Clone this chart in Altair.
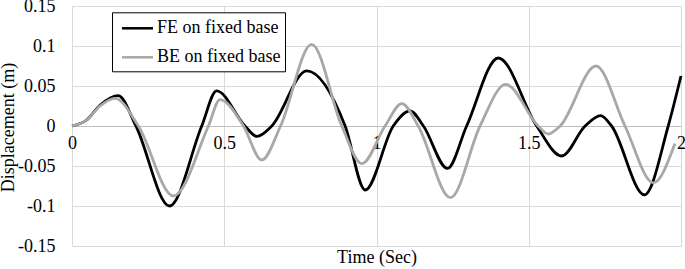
import altair as alt
import pandas as pd

# FE on fixed base (black)
fe_t = [0.0, 0.048, 0.092, 0.152, 0.21, 0.32, 0.426, 0.475, 0.568, 0.607, 0.656,
        0.771, 0.897, 0.963, 1.055, 1.110, 1.154, 1.233, 1.296, 1.400, 1.526,
        1.608, 1.685, 1.736, 1.772, 1.880, 1.958, 2.0]
fe_d = [0.0, 0.0075, 0.026, 0.038, 0.0, -0.100, 0.0, 0.044, 0.0, -0.013, 0.0,
        0.069, 0.0, -0.080, 0.0, 0.019, 0.0, -0.053, 0.0, 0.085, 0.0,
        -0.0375, 0.0, 0.013, 0.0, -0.086, 0.0, 0.0625]

# BE on fixed base (grey)
be_t = [0.0, 0.048, 0.092, 0.141, 0.218, 0.333, 0.448, 0.486, 0.563, 0.623, 0.685,
        0.787, 0.886, 0.952, 1.028, 1.083, 1.137, 1.243, 1.340, 1.424, 1.531,
        1.564, 1.603, 1.721, 1.816, 1.909, 1.98]
be_d = [0.0, 0.0075, 0.025, 0.0346, 0.0, -0.0875, 0.0, 0.033, 0.0, -0.0425, 0.0,
        0.102, 0.0, -0.047, 0.0, 0.028, 0.0, -0.0896, 0.0, 0.052, 0.0,
        -0.010, 0.0, 0.075, 0.0, -0.071, -0.022]

series_names = ["FE on fixed base", "BE on fixed base"]
series_colors = ["#000000", "#a8a8a8"]
x_ticks = [0, 0.5, 1, 1.5, 2]
y_ticks = [-0.15, -0.1, -0.05, 0, 0.05, 0.1, 0.15]

fe = pd.DataFrame({"t": fe_t, "d": fe_d, "s": series_names[0]})
be = pd.DataFrame({"t": be_t, "d": be_d, "s": series_names[1]})
data = pd.concat([fe, be], ignore_index=True)

FONT = "Liberation Serif"
GRID = "#d9d9d9"

x_enc = alt.X(
    "t:Q",
    scale=alt.Scale(domain=[0, 2], nice=False, zero=False),
    axis=alt.Axis(
        values=x_ticks, title="Time (Sec)", offset=-120, labelFlush=False,
        grid=True, gridColor=GRID, gridWidth=1, domainColor="#bfbfbf", domainWidth=1,
        ticks=False, tickSize=0, labelPadding=8, labelFontSize=18, labelFont=FONT,
        labelColor="black", labelExpr="'' + datum.value",
        titleFont=FONT, titleFontSize=18, titleFontWeight="normal", titleColor="black",
        titleX=304.5, titleY=136, titleBaseline="alphabetic", titleAlign="center",
    ),
)
y_enc = alt.Y(
    "d:Q",
    scale=alt.Scale(domain=[-0.15, 0.15], nice=False, zero=False),
    axis=alt.Axis(
        values=y_ticks, title="Displacement (m)", grid=True, gridColor=GRID, gridWidth=1,
        domain=False, ticks=False, tickSize=0, labelPadding=17, labelFontSize=18,
        labelFont=FONT, labelColor="black", labelExpr="'' + datum.value",
        titleFont=FONT, titleFontSize=18, titleFontWeight="normal", titleColor="black",
        titleX=-59, titleY=121, titleAngle=270, titleBaseline="alphabetic", titleAlign="center",
    ),
)
color_enc = alt.Color(
    "s:N",
    scale=alt.Scale(domain=series_names, range=series_colors),
    sort=series_names,
    legend=alt.Legend(
        title=None, orient="none", legendX=40, legendY=6.3, strokeColor="black",
        fillColor="white", padding=4.5, symbolType="M-0.6,0H2.5", symbolStrokeWidth=2.5,
        symbolSize=400, labelFont=FONT, labelFontSize=18, labelColor="black",
        labelOffset=17.5, rowPadding=8,
    ),
)

chart = alt.Chart(data).mark_line(strokeWidth=2.8, interpolate="monotone").encode(
    x=x_enc, y=y_enc, color=color_enc
).properties(
    width=609, height=240,
    autosize=alt.AutoSizeParams(type="none"),
    padding={"left": 72, "top": 6, "right": 4, "bottom": 23},
).configure_view(stroke=None).configure_legend(
    labelFont=FONT, labelFontSize=18, labelColor="black"
)

chart.save("out.html", embed_options={"renderer": "svg", "actions": False})
